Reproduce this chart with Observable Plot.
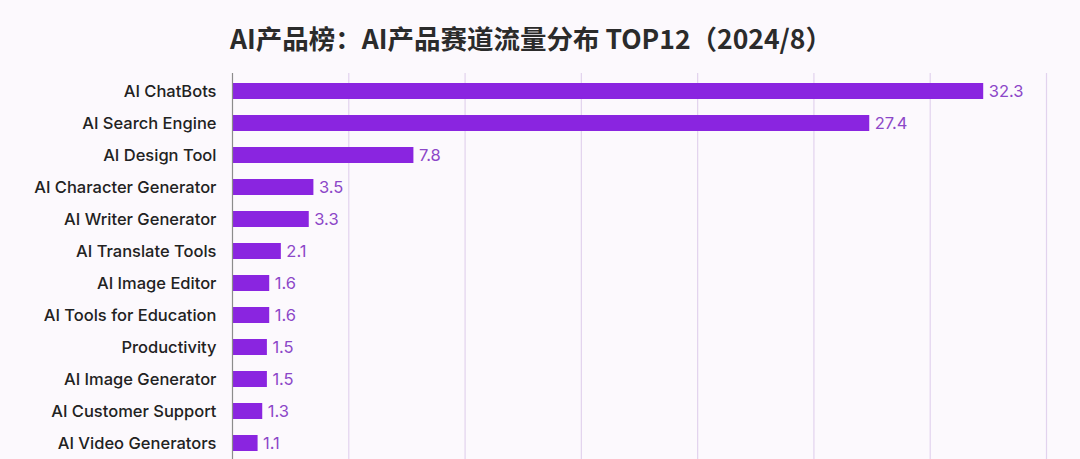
<!DOCTYPE html>
<html>
<head>
<meta charset="utf-8">
<script src="https://cdn.jsdelivr.net/npm/d3@7"></script>
<script src="https://cdn.jsdelivr.net/npm/@observablehq/plot@0.6"></script>
<style>
  html, body { margin: 0; padding: 0; background: #fcf9fd; }
  #wrap { width: 1080px; height: 459px; overflow: hidden; position: relative; background: #fcf9fd; }
  #title { height: 73px; width: 1062px; overflow: hidden; text-align: center; font-family: "Noto Sans CJK SC", "Noto Sans", sans-serif; font-weight: bold; font-size: 26.5px; color: #2b2b2b; line-height: 76px; }
  #chart svg { display: block; }
</style>
</head>
<body>
<div id="wrap">
  <div id="title">AI产品榜：AI产品赛道流量分布 TOP12（2024/8）</div>
  <div id="chart"></div>
</div>
<script>
const categories = ["AI ChatBots","AI Search Engine","AI Design Tool","AI Character Generator","AI Writer Generator","AI Translate Tools","AI Image Editor","AI Tools for Education","Productivity","AI Image Generator","AI Customer Support","AI Video Generators"];
const values = [32.3, 27.4, 7.8, 3.5, 3.3, 2.1, 1.6, 1.6, 1.5, 1.5, 1.3, 1.1];
const gridTicks = [5, 10, 15, 20, 25, 30, 35];

const data = categories.map((c, i) => ({category: c, value: values[i]}));

const chart = Plot.plot({
  width: 1080,
  height: 388,
  marginLeft: 232,
  marginRight: 34,
  marginTop: 0,
  marginBottom: 0,
  style: {background: "transparent", fontFamily: "Inter, 'Noto Sans', sans-serif"},
  x: {domain: [0, 35], axis: null},
  y: {domain: categories, paddingInner: 0.5, paddingOuter: 0.25, label: null},
  marks: [
    Plot.ruleX(gridTicks, {stroke: "#e2d3ee", strokeWidth: 1.2}),
    Plot.barX(data, {y: "category", x: "value", fill: "#8a25e0"}),
    Plot.ruleX([0], {stroke: "#8c8c8c", strokeWidth: 1.2}),
    Plot.text(data, {y: "category", x: "value", text: d => d.value.toFixed(1), textAnchor: "start", dx: 5, fill: "#8c47c8", fontSize: 16.5}),
    Plot.axisY({tickSize: 0, tickPadding: 16, fontSize: 16.5, fill: "#222", fontWeight: 500, label: null})
  ]
});
document.getElementById("chart").appendChild(chart);
</script>
</body>
</html>
